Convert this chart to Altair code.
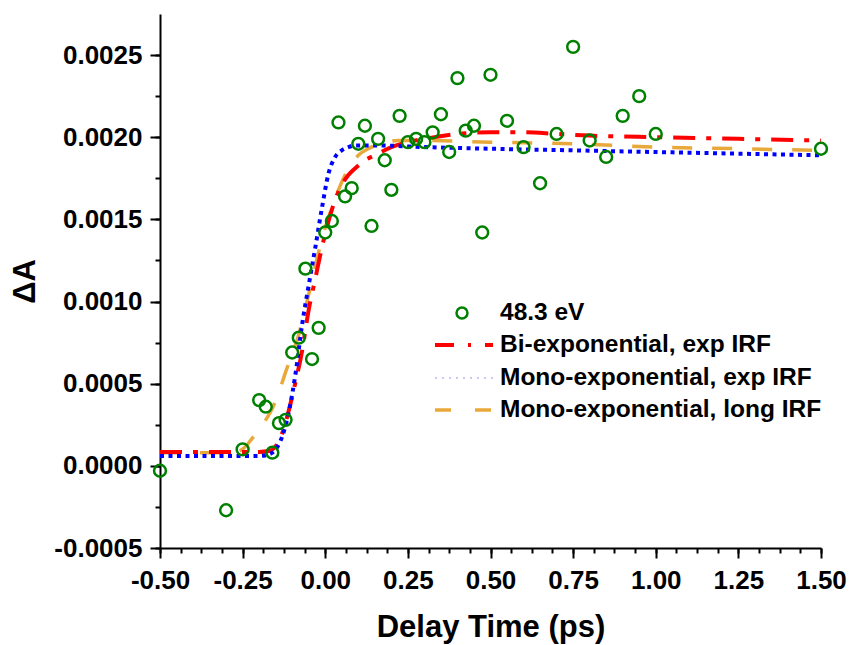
import altair as alt
import pandas as pd

# ---- measured data (48.3 eV) ----
t_data = [-0.5, -0.3, -0.25, -0.2, -0.18, -0.16, -0.14, -0.12, -0.1, -0.08, -0.06, -0.04, -0.02,
          0.0, 0.02, 0.04, 0.06, 0.08, 0.1, 0.12, 0.14, 0.16, 0.18, 0.2, 0.225, 0.25, 0.275, 0.3,
          0.325, 0.35, 0.375, 0.4, 0.425, 0.45, 0.475, 0.5, 0.55, 0.6, 0.65, 0.7, 0.75, 0.8, 0.85,
          0.9, 0.95, 1.0, 1.5]
dA_data = [-0.00003, -0.00027, 0.00010, 0.00040, 0.00036, 0.00008, 0.00026, 0.00028, 0.00069,
           0.00078, 0.00120, 0.00065, 0.00084, 0.00142, 0.00149, 0.00209, 0.00164, 0.00169,
           0.00196, 0.00207, 0.00146, 0.00199, 0.00186, 0.00168, 0.00213, 0.00197, 0.00199,
           0.00197, 0.00203, 0.00214, 0.00191, 0.00236, 0.00204, 0.00207, 0.00142, 0.00238,
           0.00210, 0.00194, 0.00172, 0.00202, 0.00255, 0.00198, 0.00188, 0.00213, 0.00225,
           0.00202, 0.00193]

# ---- fit curves ----
t_bi = [-0.5, -0.3, -0.2, -0.17, -0.15, -0.13, -0.11, -0.09, -0.07, -0.05, -0.03, -0.01, 0.01,
        0.03, 0.05, 0.07, 0.09, 0.12, 0.15, 0.2, 0.25, 0.3, 0.4, 0.5, 0.6, 0.7, 0.8, 1.0, 1.25, 1.5]
y_bi = [0.000085, 0.000085, 0.000085, 0.00009, 0.00012, 0.00020, 0.00034, 0.00051, 0.00070,
        0.00095, 0.00114, 0.00133, 0.00149, 0.00162, 0.00171, 0.00177, 0.00181, 0.00186,
        0.00189, 0.00194, 0.00197, 0.00199, 0.00202, 0.00203, 0.00203, 0.00202, 0.00201,
        0.00200, 0.00199, 0.00198]

t_mono = [-0.5, -0.2, -0.17, -0.15, -0.13, -0.11, -0.09, -0.07, -0.05, -0.03, -0.01, 0.01, 0.03,
          0.05, 0.07, 0.09, 0.15, 0.3, 0.5, 0.75, 1.0, 1.25, 1.5]
y_mono = [0.00006, 0.00006, 0.00007, 0.00010, 0.00018, 0.00033, 0.00056, 0.00086, 0.00110,
          0.00133, 0.00157, 0.00178, 0.00188, 0.00192, 0.00194, 0.00195, 0.00195, 0.00194,
          0.00193, 0.00192, 0.00191, 0.00190, 0.00189]

t_long = [-0.5, -0.28, -0.26, -0.24, -0.22, -0.2, -0.18, -0.16, -0.14, -0.12, -0.1, -0.08, -0.06,
          -0.04, -0.02, 0.0, 0.02, 0.04, 0.06, 0.08, 0.1, 0.13, 0.17, 0.22, 0.3, 0.5, 0.75, 1.0,
          1.25, 1.5]
y_long = [0.00008, 0.00008, 0.00009, 0.00012, 0.00017, 0.00022, 0.00028, 0.00035, 0.00045,
          0.00057, 0.00068, 0.00080, 0.00096, 0.00113, 0.00130, 0.00145, 0.00157, 0.00168,
          0.00177, 0.00184, 0.00189, 0.00193, 0.00196, 0.00198, 0.00198, 0.00197, 0.00196,
          0.00194, 0.00193, 0.00192]

legend_labels = ["48.3 eV", "Bi-exponential, exp IRF", "Mono-exponential, exp IRF",
                 "Mono-exponential, long IRF"]

x_major = [-0.5, -0.25, 0.0, 0.25, 0.5, 0.75, 1.0, 1.25, 1.5]
x_minor = [-0.5 + 0.0625 * i for i in range(33)]
y_major = [-0.0005, 0.0, 0.0005, 0.001, 0.0015, 0.002, 0.0025]
y_minor = [-0.0005 + 0.00025 * i for i in range(14)]

GREEN = "#008000"
RED = "#FF0000"
BLUE = "#0000FF"
ORANGE = "#E9A93A"
FONT = "Liberation Sans"

pts = pd.DataFrame({"t": t_data, "dA": dA_data})
bi = pd.DataFrame({"t": t_bi, "dA": y_bi})
mono = pd.DataFrame({"t": t_mono, "dA": y_mono})
longirf = pd.DataFrame({"t": t_long, "dA": y_long})

xscale = alt.Scale(domain=[-0.5, 1.5], nice=False, zero=False)
yscale = alt.Scale(domain=[-0.0005, 0.00275], nice=False, zero=False)

common_axis = dict(domainColor="black", domainWidth=2, tickColor="black", tickWidth=2,
                   labelFont=FONT, labelFontWeight="bold", labelColor="black", labelFontSize=26,
                   titleFont=FONT, titleFontWeight="bold", titleColor="black",
                   grid=False, labelFlush=False, labelOverlap=False, labelBound=False)

x_axis = alt.Axis(values=x_major, tickSize=10, labelPadding=9, title="Delay Time (ps)",
                  titlePadding=19, titleFontSize=31, orient="bottom",
                  labelExpr="datum.value < 0 ? '-' + format(-datum.value, '.2f') : format(datum.value, '.2f')",
                  **common_axis)
y_axis = alt.Axis(values=y_major, tickSize=10, labelPadding=8, title="ΔA", titlePadding=12,
                  titleFontSize=31, orient="left",
                  labelExpr="datum.value < 0 ? '-' + format(-datum.value, '.4f') : format(datum.value, '.4f')",
                  **common_axis)
x_axis_minor = alt.Axis(values=x_minor, tickSize=5, labels=False, title=None, domain=False,
                        orient="bottom", tickColor="black", tickWidth=2, grid=False)
y_axis_minor = alt.Axis(values=y_minor, tickSize=5, labels=False, title=None, domain=False,
                        orient="left", tickColor="black", tickWidth=2, grid=False)

points = alt.Chart(pts).mark_point(shape="circle", filled=False, color=GREEN, size=140,
                                   strokeWidth=2.5, opacity=1).encode(
    x=alt.X("t:Q", scale=xscale, axis=x_axis),
    y=alt.Y("dA:Q", scale=yscale, axis=y_axis),
)

minor = alt.Chart(pts).mark_point(opacity=0).encode(
    x=alt.X("t:Q", scale=xscale, axis=x_axis_minor),
    y=alt.Y("dA:Q", scale=yscale, axis=y_axis_minor),
)


def curve(df, color, dash, width):
    return alt.Chart(df).mark_line(color=color, strokeDash=dash, strokeWidth=width,
                                   interpolate="monotone", strokeCap="butt").encode(
        x=alt.X("t:Q", scale=xscale, axis=None),
        y=alt.Y("dA:Q", scale=yscale, axis=None),
    )


line_long = curve(longirf, ORANGE, [20, 20], 3.5)
line_bi = curve(bi, RED, [22, 11, 5, 11], 4)
line_mono = curve(mono, BLUE, [4, 4.5], 4)

one = pd.DataFrame({"k": [0]})
row_y = [299, 331, 364, 396]
sym_x0, sym_x1, text_x = 275, 333, 340

leg_circle = alt.Chart(one).mark_point(shape="circle", filled=False, color=GREEN, size=120,
                                       strokeWidth=2.5, opacity=1).encode(
    x=alt.value(302), y=alt.value(row_y[0]))
leg_red = alt.Chart(one).mark_rule(color=RED, strokeWidth=4, strokeDash=[19, 14, 3, 14],
                                   strokeCap="butt").encode(
    x=alt.value(sym_x0), x2=alt.value(sym_x1), y=alt.value(row_y[1]))
leg_blue = alt.Chart(one).mark_rule(color="#C9C9F2", strokeWidth=2, strokeDash=[2, 5],
                                    strokeCap="butt").encode(
    x=alt.value(sym_x0), x2=alt.value(sym_x1), y=alt.value(row_y[2]))
leg_orange = alt.Chart(one).mark_rule(color=ORANGE, strokeWidth=3.5, strokeDash=[16, 24],
                                      strokeCap="butt").encode(
    x=alt.value(sym_x0), x2=alt.value(sym_x1), y=alt.value(row_y[3]))

leg_texts = [
    alt.Chart(one).mark_text(text=lab, align="left", baseline="middle", font=FONT,
                             fontWeight="bold", fontSize=24.5, color="black").encode(
        x=alt.value(text_x), y=alt.value(yy))
    for lab, yy in zip(legend_labels, row_y)
]

chart = alt.layer(
    minor, line_long, line_bi, line_mono, points,
    leg_circle, leg_red, leg_blue, leg_orange, *leg_texts
).resolve_axis(x="independent", y="independent").properties(
    width=661, height=534,
    padding={"left": 160, "top": 14, "right": 30, "bottom": 97},
    autosize=alt.AutoSizeParams(type="none"),
    background="white",
).configure_view(stroke=None)

chart.save("out.html", embed_options={"renderer": "svg", "actions": False})
